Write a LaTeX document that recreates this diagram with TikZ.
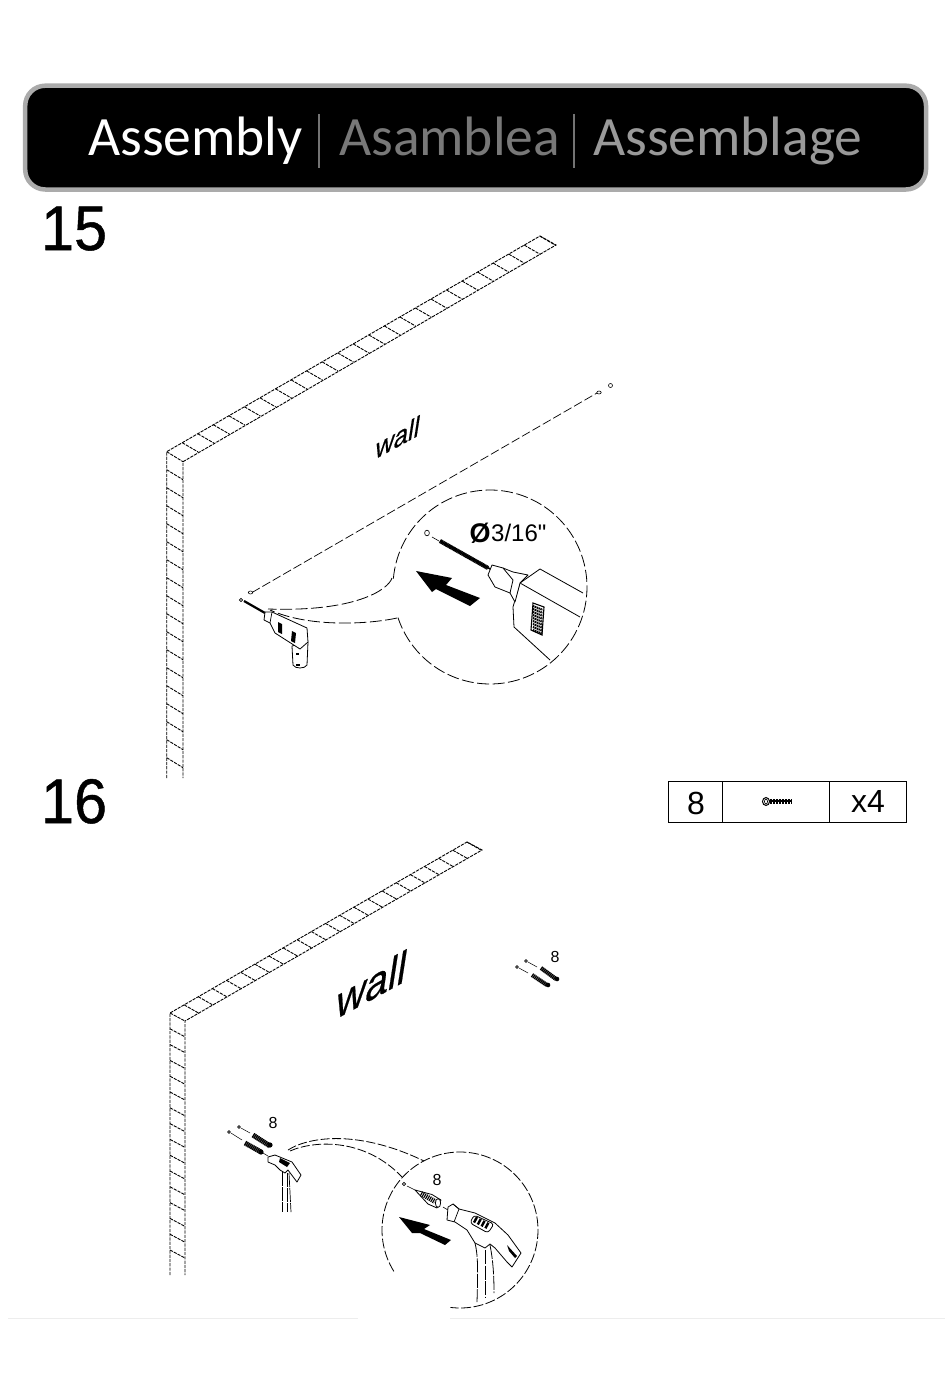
\documentclass[tikz,border=0pt]{standalone}
\usepackage{fontspec}
\setmainfont{Liberation Sans}
\newfontfamily\headfont{Carlito}
\newfontfamily\numfont[FakeBold=0.8]{Liberation Sans}
\newfontfamily\wallfont[FakeBold=0.5]{Liberation Sans}
\newfontfamily\plainfont[Ligatures=ResetAll]{Liberation Sans}
\tikzset{
  px/.style={font=\fontsize{#1}{#1}\selectfont},
  wallline/.style={line width=0.9pt,dash pattern=on 3.2pt off 1.1pt,black},
  lead/.style={line width=0.8pt,dash pattern=on 12pt off 3.5pt,black},
  thin part/.style={line width=0.8pt,black,fill=white,line join=round},
  headtext/.style={anchor=base west,inner sep=0pt,font=\headfont\fontsize{55.5}{55.5}\selectfont},
  numtext/.style={anchor=base west,inner sep=0pt,xscale=.94,font=\numfont\fontsize{63}{63}\selectfont},
  hole/.style={line width=0.6pt,black,fill=white},
  plug/.style={line width=4.2pt,black,dash pattern=on 1.2pt off 0.4pt},
  plugs/.style={line width=4.2pt,black,dash pattern=on 1.3pt off 0.5pt},
  walltext/.style={font=\wallfont\fontsize{#1}{#1}\selectfont,cm={.88,.48,.16,1.03,(0,0)},inner sep=0pt}
}
\begin{document}
\begin{tikzpicture}[x=1pt,y=-1pt]
\useasboundingbox (0,0) rectangle (950,1378);
\fill[white] (0,0) rectangle (950,1378);
% header
\draw[line width=4.5pt,draw=black!33,fill=black,rounded corners=20pt] (25.2,85.7) rectangle (926,189.5);
\node[headtext,text=white] (h1) at (88,155) {Assembly};
\node[headtext,text=black!53] (h2) at (339,155) {Asamblea};
\node[headtext,text=black!40] (h3) at (593,155) {Assemblage};
\draw[line width=1.8pt,black!55] (319,114) -- (319,168);
\draw[line width=1.8pt,black!55] (574,114) -- (574,168);
\node[numtext] (n15) at (41,250) {15};
\node[numtext] (n16) at (41,823) {16};
% wall 15
\draw[wallline] (166.7,778) -- (166.7,451.7) -- (540,236) -- (556,245) -- (183,461.7) -- (183,778);
\draw[wallline] (166.7,451.7) -- (183,461.7);
\foreach \i in {1,...,24} \draw[wallline] ({166.7+\i*15.55},{451.7-\i*8.98}) -- ++(16,9.3);
\foreach \i in {1,...,17} \draw[wallline] (166.7,{451.7+\i*18}) -- (183,{461.7+\i*18});
\node[walltext=29] (wall1) at (398,437) {wall};
% long dashed
\draw[line width=0.7pt,dash pattern=on 9pt off 3pt] (252,592.5) -- (597,393);
\draw[hole] (241,600) circle (1.6pt);
\draw[hole] (250.5,592.5) ellipse (2.2pt and 1.5pt);
\draw[hole] (599,392.5) ellipse (2.2pt and 1.5pt);
\draw[hole] (610.5,385.5) ellipse (2pt and 2pt);
% small drill
\draw[line width=2.2pt] (244,601) -- (265,613);
\draw[thin part] (292,646) -- (293,665) .. controls (295,669) and (305,669) .. (307,665) -- (308,642) -- cycle;
\draw[thin part] (265,612) -- (272,612) -- (307,628) -- (308,642) -- (300,649) -- (275,633) -- (270,623) -- (264,620) -- cycle;
\draw[line width=0.7pt] (272,612) -- (270,623);
\fill (278,622) -- (282,624) -- (282,634) -- (278,632) -- cycle;
\fill (292,631) -- (296,633) -- (295,643) -- (291,641) -- cycle;
\fill (296,653) rectangle (299,655);
\fill (296,664) rectangle (300,666);
% circle 15
\draw[lead] plot[domain=185:521.6,samples=120] ({490+97*cos(\x)},{587+97*sin(\x)});
\draw[lead] (392,578) .. controls (388,590) and (355,612) .. (268,609);
\draw[lead] (397,618) .. controls (370,624) and (310,628) .. (270,610);
% big drill
\draw[hole] (427,533) ellipse (2.4pt and 2.8pt);
\draw[line width=0.6pt] (432,537) -- (439,541);
\draw[plug] (440,541) -- (488,568);
\draw[line width=1.6pt] (440,541) -- (492,570);
\draw[thin part] (540,569) -- (583,593);
\draw[thin part] (520,583) -- (580,617);
\draw[thin part] (520,583) -- (540,569);
\draw[thin part] (520,583) -- (513,607) -- (514,627) -- (550,660);
\draw[thin part] (503,568) -- (513,572) -- (528,575) -- (520,583) -- (515,602) -- (510,593) -- cycle;
\draw[thin part] (492,565) -- (488,575) -- (495,587) -- (510,593) -- (513,580) -- (503,568) -- cycle;
\draw[line width=1.1pt] (533,603) -- (544,607) -- (542,635) -- (531,630) -- cycle;
\foreach \i in {0,...,8} \draw[line width=2pt,dash pattern=on 1.4pt off 0.6pt] (533,{606+\i*3}) -- ++(9.5,3.8);
\fill (416,571) -- (452,578) -- (446,585) -- (480,598) -- (470,606) -- (436,589) -- (432,592) -- cycle;
\node[font=\plainfont\fontsize{24}{24}\selectfont,inner sep=0pt,anchor=base west] (dia) at (491,541) {3/16"};
\node[font=\fontsize{27}{27}\selectfont\bfseries,inner sep=0pt,anchor=base] (dsym) at (480,542) {Ø};
% table
\draw[line width=1pt] (668,781) rectangle (906,822);
\draw[line width=1pt] (722,781) -- (722,822);
\draw[line width=1pt] (829,781) -- (829,822);
\node[px=32,inner sep=0pt] (t8) at (696,803) {8};
\node[px=32,inner sep=0pt] (t4) at (868,801) {x4};
\draw[line width=4.4pt,dash pattern=on 1pt off 0.5pt] (768,801.5) -- (791,801.5);
\draw[line width=2.6pt,line cap=round] (769,801) -- (790.5,801);
\draw[line width=1pt,fill=white] (766,801.5) ellipse (3.5pt and 4pt);
\draw[line width=0.7pt] (766,801.5) ellipse (1.5pt and 2.5pt);
% wall 16
\draw[wallline] (170,1275) -- (170,1013) -- (467,842) -- (482,850) -- (185,1021) -- (185,1275);
\draw[wallline] (170,1013) -- (185,1021);
\foreach \i in {1,...,21} \draw[wallline] ({170+\i*14.14},{1013-\i*8.14}) -- ++(15,8.5);
\foreach \i in {1,...,15} \draw[wallline] (170,{1013+\i*15.8}) -- (185,{1021+\i*15.8});
\node[walltext=46] (wall2) at (372,984) {wall};
% far anchors
\node[px=16,inner sep=0pt] (far8) at (555,957) {8};
\draw[hole] (526,961) circle (1.4pt);
\draw[hole] (517,967) circle (1.4pt);
\draw[line width=0.5pt] (528,962) -- (537,967);
\draw[line width=0.5pt] (519,968) -- (528,973);
\draw[plugs] (541,968) -- (556,979);
\draw[plugs] (532,975) -- (547,985);
\fill (557,979) circle (2.3pt);
\fill (548,985) circle (2.3pt);
% near anchors
\node[px=16,inner sep=0pt] (near8) at (273,1123) {8};
\draw[hole] (239,1127) circle (1.4pt);
\draw[hole] (229,1132) circle (1.4pt);
\draw[line width=0.5pt] (241,1128) -- (250,1133);
\draw[line width=0.5pt] (231,1133) -- (242,1140);
\draw[plugs,line width=5pt] (253,1135) -- (270,1146);
\draw[plugs,line width=5pt] (245,1143) -- (261,1152);
\fill (270,1145) circle (2.6pt);
\fill (261,1152) circle (2.6pt);
\draw[line width=0.5pt] (263,1153) -- (268,1156);
% small hammer
\draw[line width=0.7pt,dash pattern=on 14pt off 1pt] (282,1172) -- (282,1212);
\draw[line width=0.7pt,dash pattern=on 14pt off 1pt] (287,1173) -- (287,1212);
\draw[line width=0.7pt,dash pattern=on 14pt off 1pt] (289,1173) -- (291,1212);
\draw[thin part] (268,1157) -- (275,1155) -- (292,1162) -- (301,1175) -- (297,1182) -- (288,1170) -- (285,1173) -- (280,1170) -- (275,1165) -- (268,1162) -- cycle;
\fill (280,1158) -- (290,1163) -- (287,1167) -- (279,1162) -- cycle;
% leaders 16
\draw[lead,dash pattern=on 9pt off 2.5pt] (288,1150) .. controls (310,1136) and (360,1130) .. (424,1161);
\draw[lead,dash pattern=on 9pt off 2.5pt] (290,1151) .. controls (315,1140) and (365,1138) .. (402,1177);
% circle 16
\draw[lead,dash pattern=on 10pt off 2.5pt] plot[domain=148:457,samples=120] ({460+78*cos(\x)},{1230+78*sin(\x)});
% big anchor
\node[px=16,inner sep=0pt] (big8) at (437,1180) {8};
\draw[hole] (404,1184) circle (1.6pt);
\draw[line width=0.5pt] (407,1186) -- (415,1190);
\draw[thin part] (415,1190) -- (432,1194.5) -- (441,1200) -- (437,1208) -- (428,1204) -- cycle;
\draw[line width=5pt,dash pattern=on 1.1pt off 0.9pt] (421,1193.5) -- (435,1201.5);
\draw[thin part] (438,1203) ellipse (2.6pt and 4.4pt);
\draw[line width=0.6pt] (443,1207) -- (448,1210);
% big hammer
\draw[line width=0.8pt,dash pattern=on 14pt off 1.5pt] (475,1243) .. controls (478,1255) and (478,1270) .. (477,1302);
\draw[line width=0.8pt,dash pattern=on 14pt off 1.5pt] (485,1250) -- (485,1298);
\draw[line width=0.8pt,dash pattern=on 14pt off 1.5pt] (490,1245) .. controls (493,1260) and (494,1275) .. (494,1293);
\draw[thin part] (448,1207) -- (453,1204) -- (459,1209) -- (475,1213) -- (495,1223) -- (508,1235) -- (521,1253) -- (512,1267) -- (507,1262) -- (495,1248) -- (490,1244) -- (485,1248) -- (475,1243) -- (467,1230) -- (455,1222) -- (447,1220) -- cycle;
\draw[line width=0.7pt] (453,1204) -- (459,1209) -- (454,1222);
\draw[thin part,rounded corners=3pt] (474,1215) -- (494,1224) -- (488,1233) -- (470,1223) -- cycle;
\foreach \i in {0,...,3} \draw[line width=2.4pt] ({477+\i*3.8},{1217+\i*1.9}) -- ++(-3,5.6);
\fill (507,1245) -- (517,1256) -- (515,1258) -- (509,1251) -- cycle;
\fill (399,1217) -- (430,1225) -- (424,1229) -- (451,1240) -- (445,1245) -- (420,1233) -- (412,1233) -- cycle;
% footer rule
\draw[line width=1.6pt,black!7] (8,1318.5) -- (358,1318.5);
\draw[line width=1.6pt,black!7] (450,1318.5) -- (945,1318.5);
\end{tikzpicture}
\end{document}
